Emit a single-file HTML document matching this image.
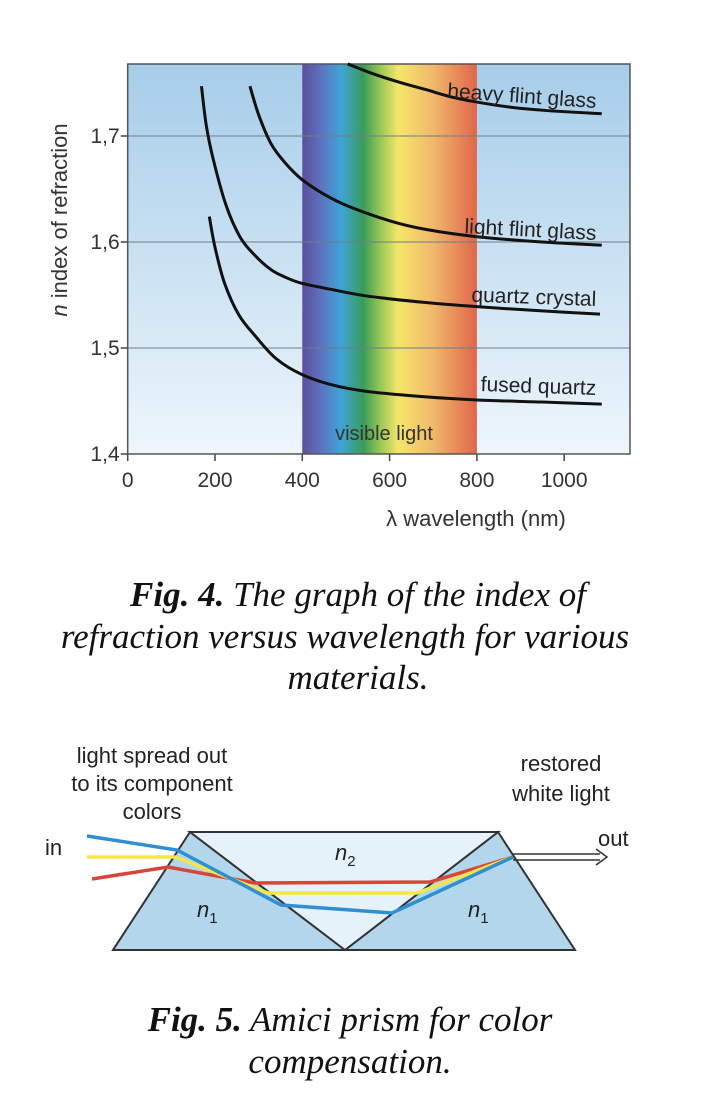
<!DOCTYPE html>
<html><head><meta charset="utf-8"><style>
html,body{margin:0;padding:0;background:#fff;}
svg{display:block;}
text{font-family:"Liberation Sans",sans-serif;}
.cap{font-family:"Liberation Serif",serif;font-style:italic;font-size:35px;fill:#111;}
</style></head><body>
<svg width="716" height="1098" viewBox="0 0 716 1098">
<defs>
<linearGradient id="bg" x1="0" y1="0" x2="0" y2="1"><stop offset="0" stop-color="#a6cde9"/><stop offset="1" stop-color="#eef6fc"/></linearGradient>
<linearGradient id="spec" x1="0" y1="0" x2="1" y2="0">
<stop offset="0" stop-color="#5a4f9c"/><stop offset="0.1" stop-color="#5f6fbc"/><stop offset="0.22" stop-color="#3fa4d8"/><stop offset="0.35" stop-color="#3a9c5a"/><stop offset="0.45" stop-color="#9cc856"/><stop offset="0.55" stop-color="#f5e66a"/><stop offset="0.75" stop-color="#f0b86c"/><stop offset="1" stop-color="#e0664a"/></linearGradient>
</defs>
<g id="chart"></g>
<g>
<text class="cap" x="358" y="606" text-anchor="middle"><tspan font-weight="bold">Fig. 4.</tspan> The graph of the index of</text>
<text class="cap" x="345" y="648" text-anchor="middle">refraction versus wavelength for various</text>
<text class="cap" x="358" y="689" text-anchor="middle">materials.</text>
</g>
<g>
<polygon points="190,832 113,950 345,950" fill="#b2d6ec" stroke="#333" stroke-width="2"/>
<polygon points="498,832 345,950 575,950" fill="#b2d6ec" stroke="#333" stroke-width="2"/>
<polygon points="190,832 498,832 345,950" fill="#e6f2fa" stroke="#333" stroke-width="2"/>
<polyline points="92,879 168,867 255,883 430,882 513,857" fill="none" stroke="#d9453a" stroke-width="3.5"/>
<polyline points="87,857 175,857 268,893 417,893 513,857" fill="none" stroke="#f4e64a" stroke-width="3.5"/>
<polyline points="87,836 177,850 281,905 392,913 513,857" fill="none" stroke="#2f8fd0" stroke-width="3.5"/>
<g><line x1="513" y1="854" x2="600" y2="854" stroke="#333" stroke-width="1.5"/><line x1="513" y1="860" x2="600" y2="860" stroke="#333" stroke-width="1.5"/><polyline points="596,849 607,857 596,865" fill="none" stroke="#333" stroke-width="1.5"/></g>
<g font-size="22" fill="#222">
<text x="152" y="763" text-anchor="middle">light spread out</text>
<text x="152" y="791" text-anchor="middle">to its component</text>
<text x="152" y="819" text-anchor="middle">colors</text>
<text x="561" y="771" text-anchor="middle">restored</text>
<text x="561" y="801" text-anchor="middle">white light</text>
<text x="45" y="855">in</text>
<text x="598" y="846">out</text>
<text x="335" y="860" font-style="italic">n<tspan font-size="15" dy="6" font-style="normal">2</tspan></text>
<text x="197" y="917" font-style="italic">n<tspan font-size="15" dy="6" font-style="normal">1</tspan></text>
<text x="468" y="917" font-style="italic">n<tspan font-size="15" dy="6" font-style="normal">1</tspan></text>
</g>
</g>
<g>
<text class="cap" x="350" y="1031" text-anchor="middle"><tspan font-weight="bold">Fig. 5.</tspan> Amici prism for color</text>
<text class="cap" x="350" y="1073" text-anchor="middle">compensation.</text>
</g>
</svg>
<script>
const xTicks=[0,200,400,600,800,1000];
const yTicks=[1.4,1.5,1.6,1.7];
const yTickLabels=["1,4","1,5","1,6","1,7"];
const visibleRange=[400,800];
const heavyFlintX=[504,560,620,681,740,800,880,960,1086];
const heavyFlintY=[1.768,1.759,1.751,1.744,1.737,1.732,1.727,1.724,1.721];
const lightFlintX=[280,300,328,360,399,450,504,600,681,800,950,1086];
const lightFlintY=[1.747,1.720,1.693,1.675,1.659,1.645,1.634,1.620,1.612,1.605,1.600,1.597];
const quartzCrystalX=[169,180,196,225,257,290,328,360,399,470,549,680,800,950,1082];
const quartzCrystalY=[1.747,1.710,1.678,1.635,1.605,1.588,1.574,1.567,1.561,1.555,1.549,1.543,1.539,1.535,1.532];
const fusedQuartzX=[187,200,222,255,293,340,399,470,549,680,800,950,1086];
const fusedQuartzY=[1.624,1.595,1.561,1.531,1.511,1.490,1.475,1.465,1.459,1.454,1.451,1.449,1.447];
const seriesNames=["heavy flint glass","light flint glass","quartz crystal","fused quartz"];

const NS="http://www.w3.org/2000/svg";
const L=127.7,R=630,T=64,B=454;
const X=v=>L+v*0.4365;
const Y=v=>B-(v-1.4)*1060;
const g=document.getElementById('chart');
function mk(tag,attrs,parent){const e=document.createElementNS(NS,tag);for(const k in attrs)e.setAttribute(k,attrs[k]);(parent||g).appendChild(e);return e;}
let bg=mk('rect',{x:L,y:T,width:R-L,height:B-T,fill:'url(#bg)'});


let band=mk('rect',{x:X(visibleRange[0]),y:T,width:X(visibleRange[1])-X(visibleRange[0]),height:B-T,fill:'url(#spec)'});


yTicks.forEach((v,i)=>{
 if(i>0){let gl=mk('line',{x1:L,x2:R,y1:Y(v),y2:Y(v),stroke:'#6a7f8c','stroke-width':1});
 
 }
 mk('line',{x1:L-7,x2:L,y1:Y(v),y2:Y(v),stroke:'#444','stroke-width':1.5});
 let t=mk('text',{x:L-8,y:Y(v)+7,'text-anchor':'end','font-size':21,fill:'#333'});t.textContent=yTickLabels[i];
 
 
});
xTicks.forEach(v=>{
 mk('line',{x1:X(v),x2:X(v),y1:B,y2:B+7,stroke:'#444','stroke-width':1.5});
 let t=mk('text',{x:X(v),y:B+33,'text-anchor':'middle','font-size':21,fill:'#333'});t.textContent=v;
 
 
});
let fr=mk('rect',{x:L,y:T,width:R-L,height:B-T,fill:'none',stroke:'#555','stroke-width':1.5});


const series=[[heavyFlintX,heavyFlintY],[lightFlintX,lightFlintY],[quartzCrystalX,quartzCrystalY],[fusedQuartzX,fusedQuartzY]];
series.forEach((s,i)=>{
 const pts=s[0].map((x,j)=>[X(x),Y(s[1][j])]);
 let d='M'+pts[0][0]+','+pts[0][1];
 for(let j=1;j<pts.length;j++){const p0=pts[Math.max(j-2,0)],p1=pts[j-1],p2=pts[j],p3=pts[Math.min(j+1,pts.length-1)];
  d+=' C'+(p1[0]+(p2[0]-p0[0])/6)+','+(p1[1]+(p2[1]-p0[1])/6)+' '+(p2[0]-(p3[0]-p1[0])/6)+','+(p2[1]-(p3[1]-p1[1])/6)+' '+p2[0]+','+p2[1];}
 let p=mk('path',{d:d,fill:'none',stroke:'#111','stroke-width':3});
 
 
});
const lab=[[596,108,4],[596,240,3],[596,306,2],[596,395,2]];
seriesNames.forEach((n,i)=>{
 let t=mk('text',{x:lab[i][0],y:lab[i][1],'text-anchor':'end','font-size':21,fill:'#222',transform:'rotate('+lab[i][2]+' '+lab[i][0]+' '+lab[i][1]+')'});t.textContent=n;
 
 
});
let vl=mk('text',{x:384,y:440,'text-anchor':'middle','font-size':20,fill:'#333'});vl.textContent='visible light';


let xt=mk('text',{x:476,y:526,'text-anchor':'middle','font-size':22,fill:'#333'});xt.textContent='λ wavelength (nm)';


let yt=mk('text',{x:0,y:0,'text-anchor':'middle','font-size':22,fill:'#333',transform:'translate(67,220) rotate(-90)'});
yt.innerHTML='<tspan font-style="italic">n</tspan> index of refraction';


</script>
</body></html>
